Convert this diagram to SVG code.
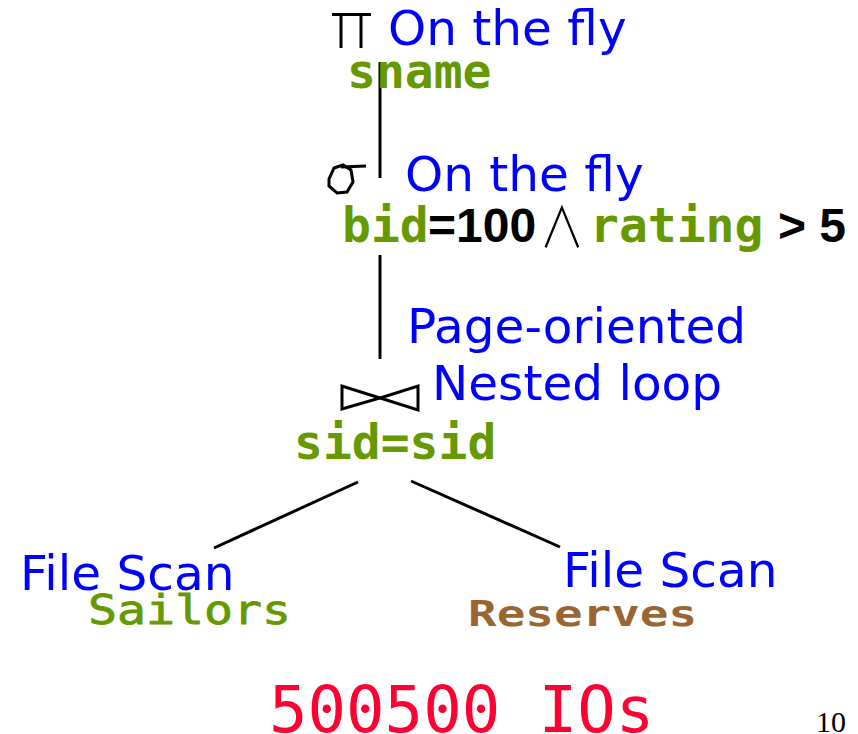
<svg xmlns="http://www.w3.org/2000/svg" width="858" height="734" viewBox="0 0 858 734">
  <style>
    .note { font-family: "DejaVu Sans", Verdana, sans-serif; font-size: 48.5px; fill: #0000ff; }
    .attr { font-family: "DejaVu Sans Mono", monospace; font-weight: bold; font-size: 48px; fill: #669900; }
    .const { font-family: "Liberation Sans", Arial, sans-serif; font-weight: bold; font-size: 48px; fill: #000000; }
    .op { fill: none; stroke: #000000; stroke-width: 3; stroke-linejoin: miter; }
    .edge { stroke: #000000; stroke-width: 3; fill: none; }
  </style>

  <!-- tree edges -->
  <g id="connectors">
    <line class="edge" x1="380" y1="62" x2="380" y2="178"/>
    <line class="edge" x1="380" y1="255" x2="380" y2="359"/>
    <line class="edge" x1="358" y1="482" x2="214" y2="548"/>
    <line class="edge" x1="411" y1="481" x2="560" y2="547"/>
  </g>

  <!-- projection -->
  <g id="projection">
    <line class="op" x1="332" y1="14.5" x2="371" y2="14.5"/>
    <line class="op" x1="341" y1="14" x2="341" y2="48"/>
    <line class="op" x1="361" y1="14" x2="361" y2="48"/>
    <text class="note" x="388" y="45">On the fly</text>
    <text class="attr" x="347" y="88">sname</text>
  </g>

  <!-- selection -->
  <g id="selection">
    <polygon class="op" stroke-width="2.5" points="329,179 334,168 343,165 351,170 353,182 347,192 337,193 329,186"/>
    <line class="op" stroke-width="2.5" x1="341" y1="167" x2="366" y2="166"/>
    <text class="note" x="405" y="191">On the fly</text>
    <text y="242"><tspan class="attr" x="342">bid</tspan><tspan class="const" x="428">=100</tspan><tspan class="attr" x="590">rating</tspan><tspan class="const" x="778">&gt; 5</tspan></text>
    <text transform="translate(562,247) scale(0.8,1)" text-anchor="middle" style="font-family:'Noto Sans CJK JP','DejaVu Sans',sans-serif;font-weight:300;font-size:56px;fill:#000">∧</text>
  </g>

  <!-- join -->
  <g id="join">
    <polygon class="op" points="342,386 342,409 380,398"/>
    <polygon class="op" points="418,386 418,410 380,398"/>
    <text class="note" x="407" y="343">Page-oriented</text>
    <text class="note" x="432" y="400">Nested loop</text>
    <text class="attr" x="294" y="459">sid=sid</text>
  </g>

  <!-- left scan -->
  <g id="scan-sailors">
    <text class="note" x="20" y="590">File Scan</text>
    <text x="88" y="624" textLength="203" lengthAdjust="spacingAndGlyphs" style="font-family:'DejaVu Sans Mono',monospace;font-size:40px;fill:#669900;stroke:#669900;stroke-width:0.8">Sailors</text>
  </g>

  <!-- right scan -->
  <g id="scan-reserves">
    <text class="note" x="563" y="587">File Scan</text>
    <text x="468" y="626" textLength="229" lengthAdjust="spacingAndGlyphs" style="font-family:'DejaVu Sans Mono',monospace;font-weight:bold;font-size:36px;fill:#996633">Reserves</text>
  </g>

  <!-- cost -->
  <g id="cost">
    <text x="269" y="732" style="font-family:'DejaVu Sans Mono',monospace;font-size:64px;fill:#ff0033">500500 IOs</text>
  </g>

  <g id="page-number">
    <text x="816" y="732" style="font-family:'Liberation Serif','Times New Roman',serif;font-size:30px;fill:#000">10</text>
  </g>
</svg>
